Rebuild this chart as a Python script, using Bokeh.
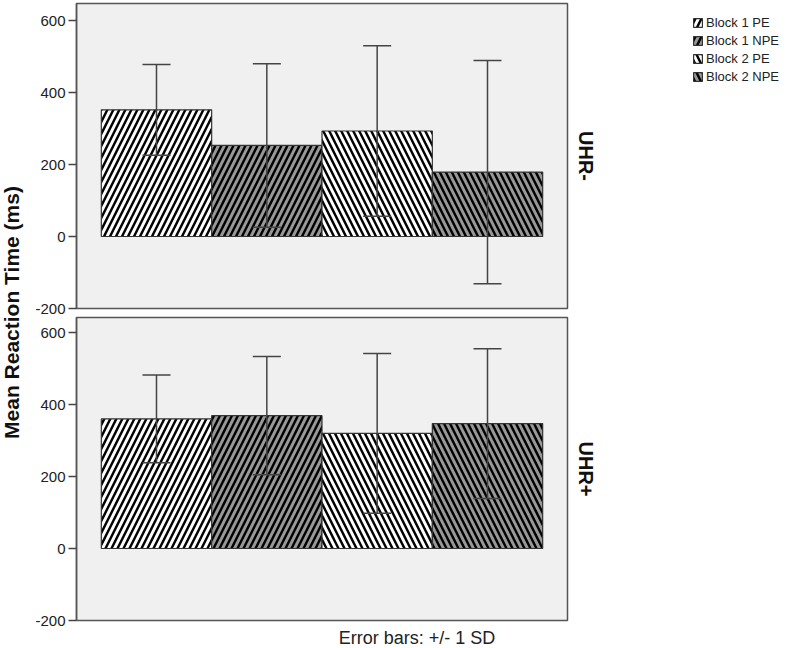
import math
from bokeh.plotting import figure
from bokeh.models import (Range1d, FixedTicker, Whisker, ColumnDataSource, Label, TeeHead,
                          Title, Legend, LegendItem, PrintfTickFormatter)
from bokeh.layouts import row, column
from bokeh.embed import file_html
from bokeh.resources import INLINE

# ---- data ----
groups = ["UHR-", "UHR+"]
series = ["Block 1 PE", "Block 1 NPE", "Block 2 PE", "Block 2 NPE"]
uhr_minus_mean = [352, 253, 293, 179]
uhr_minus_sd = [126, 227, 237, 310]
uhr_plus_mean = [360, 369, 320, 347]
uhr_plus_sd = [122, 164, 222, 208]
y_ticks = [-200, 0, 200, 400, 600]
y_title = "Mean Reaction Time (ms)"
footnote = "Error bars: +/- 1 SD"

# ---- styles ----
fills = ["#ffffff", "#989898", "#ffffff", "#989898"]
patterns = ["right_diagonal_line", "right_diagonal_line",
            "left_diagonal_line", "left_diagonal_line"]
FONT = "Liberation Sans"
LABEL_W = 32
FIG_W = 575
FRAME_W = 494
BORDER_L = 41
BORDER_R = FIG_W - BORDER_L - FRAME_W
LEG_W = 789 - LABEL_W - FIG_W
LEG_H = 100
X0, X1 = -0.225, 4.225
PX_PER_UNIT_Y = 0.36
HATCH = dict(hatch_color="black", hatch_scale=12, hatch_weight=2.4)
BAR_LINE = dict(line_color="#333333", line_width=1.2)


def bare_figure(w, h, xr, yr):
    f = figure(width=w, height=h, output_backend="svg", toolbar_location=None,
               x_range=Range1d(*xr), y_range=Range1d(*yr),
               min_border=0, min_border_left=0, min_border_right=0,
               min_border_top=0, min_border_bottom=0,
               x_axis_location=None, y_axis_location=None)
    f.outline_line_color = None
    f.grid.visible = False
    return f


def make_panel(means, sds, group, border_top, frame_h, border_bottom):
    y_top = -200 + frame_h / PX_PER_UNIT_Y
    p = figure(width=FIG_W, height=border_top + frame_h + border_bottom,
               output_backend="svg", toolbar_location=None,
               x_range=Range1d(X0, X1), y_range=Range1d(-200, y_top),
               min_border_left=BORDER_L, min_border_right=BORDER_R,
               min_border_top=border_top, min_border_bottom=border_bottom,
               x_axis_location=None)
    p.background_fill_color = "#f0f0f0"
    p.border_fill_color = "white"
    p.outline_line_color = "#555555"
    p.outline_line_width = 1.5
    p.grid.visible = False

    ax = p.yaxis[0]
    ax.ticker = FixedTicker(ticks=y_ticks)
    ax.formatter = PrintfTickFormatter(format="%d")
    ax.major_label_text_font = FONT
    ax.major_label_text_font_size = "15px"
    ax.major_label_text_color = "#222222"
    ax.axis_line_color = "#555555"
    ax.axis_line_width = 1.5
    ax.major_tick_line_color = "#444444"
    ax.major_tick_line_width = 1.5
    ax.major_tick_out = 8
    ax.major_tick_in = 0
    ax.minor_tick_out = 0
    ax.minor_tick_in = 0
    ax.major_label_standoff = 3

    sources = []
    for i, s in enumerate(series):
        src = ColumnDataSource(dict(x=[i + 0.5], top=[means[i]],
                                    upper=[means[i] + sds[i]],
                                    lower=[means[i] - sds[i]]))
        sources.append(src)
        p.vbar(x="x", top="top", bottom=0, width=1, source=src,
               fill_color=fills[i], hatch_pattern=patterns[i], **HATCH, **BAR_LINE)
        w = Whisker(base="x", upper="upper", lower="lower", source=src,
                    line_color="#444444", line_width=1.5, level="overlay",
                    upper_head=TeeHead(size=28, line_color="#444444", line_width=1.5),
                    lower_head=TeeHead(size=28, line_color="#444444", line_width=1.5))
        p.add_layout(w)

    p.add_layout(Title(text=group, align="center", text_font=FONT, text_font_style="bold",
                       text_font_size="20px", text_color="#111111", standoff=14), "right")
    return p, sources


p1, src1 = make_panel(uhr_minus_mean, uhr_minus_sd, groups[0], 3, 305, 7)
p2, src2 = make_panel(uhr_plus_mean, uhr_plus_sd, groups[1], 2, 303, 7)

# footnote strip under the lower panel
FOOT_H = 21
foot = bare_figure(FIG_W, FOOT_H, (0, FIG_W), (0, FOOT_H))
foot.add_layout(Label(x=339 - LABEL_W, y=FOOT_H, text=footnote, text_align="left",
                      text_baseline="top", text_font=FONT, text_font_size="18px",
                      text_color="#222222"))

total_h = p1.height + p2.height + FOOT_H

# y-axis title spanning both panels
lf = bare_figure(LABEL_W, total_h, (0, LABEL_W), (0, total_h))
lf.add_layout(Label(x=11, y=total_h - 312, text=y_title, angle=math.pi / 2,
                    text_align="center", text_baseline="middle", text_font=FONT,
                    text_font_style="bold", text_font_size="21px",
                    text_color="#111111"))

# legend block at the top right (its swatches come from hidden copies of the bars)
lg_fig = bare_figure(LEG_W, LEG_H, (0, 1), (0, 1))
items = []
for i, s in enumerate(series):
    r = lg_fig.vbar(x="x", top="top", bottom=0, width=1, source=src1[i],
                    fill_color=fills[i], hatch_pattern=patterns[i], **HATCH, **BAR_LINE)
    r.visible = False
    items.append(LegendItem(label=s, renderers=[r]))
lg = Legend(items=items, location=(692 - (LABEL_W + FIG_W), LEG_H - 15 - 69))
lg.background_fill_alpha = 0
lg.border_line_color = None
lg.inactive_fill_alpha = 0
lg.label_text_font = FONT
lg.label_text_font_size = "13px"
lg.label_text_color = "#222222"
lg.glyph_width = 11
lg.glyph_height = 11
lg.label_height = 13
lg.spacing = 3
lg.padding = 0
lg.margin = 0
lg.label_standoff = 3
lg_fig.add_layout(lg)

layout = row(lf, column(p1, p2, foot), lg_fig)
open("out.html", "w").write(file_html(layout, INLINE))
